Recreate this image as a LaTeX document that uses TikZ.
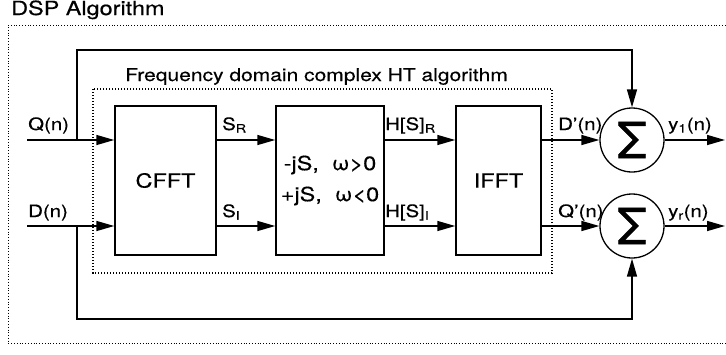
\documentclass[tikz,border=0pt]{standalone}
\usepackage{fontspec}
\setmainfont{TeX Gyre Heros}[FakeStretch=1.2,FakeBold=0.4]
\newfontfamily\sigfont{TeX Gyre Heros}[FakeBold=0.6]
\usepackage{tikz}
\usetikzlibrary{arrows.meta}
\usetikzlibrary{positioning}

\begin{document}
\begin{tikzpicture}[line cap=butt,line join=miter,>={Triangle[length=18pt,width=10pt]},x=1pt,y=-1pt,
  blk/.style={draw,line width=1.5pt,inner sep=0pt,font=\fontsize{19.5}{22}\selectfont},
  sumnode/.style={draw,circle,line width=1.3pt,minimum size=64pt,inner sep=0pt,font=\sigfont\fontsize{50}{50}\selectfont},
  lbl/.style={anchor=base west,inner sep=0pt,font=\fontsize{17}{19}\selectfont},
  wire/.style={line width=1.5pt}]
\useasboundingbox (0,0) rectangle (726,354);
% outer and inner frames
\draw[line width=0.8pt,dotted] (725.5,25) -- (8,25) -- (8,343) -- (725.5,343);
\node[lbl,font=\fontsize{19.5}{21}\selectfont] (title) at (11,15) {DSP Algorithm};
\draw[line width=1.3pt,dash pattern=on 1.4pt off 1.6pt] (93,89) rectangle (552,273);
\node[lbl,font=\fontsize{17.5}{19}\selectfont] (htlab) at (125,81) {Frequency domain complex HT algorithm};
% blocks
\node[blk,minimum width=101pt,minimum height=149pt] (cfft) at (165.5,180.5) {CFFT};
\node[blk,minimum width=108pt,minimum height=149pt,align=center,font=\fontsize{19.5}{31}\selectfont] (hilb) at (330,180.5) {-jS,\ \ ω>0\\+jS,\ \ ω<0};
\node[blk,minimum width=85pt,minimum height=149pt] (ifft) at (498.5,180.5) {IFFT};
\node[sumnode] (sum1) at (632,140) {Σ};
\node[sumnode] (sum2) at (632,226) {Σ};
% end points
\coordinate (qin) at (27,140);
\coordinate (din) at (27,226);
\coordinate (qbr) at (77,140);
\coordinate (dbr) at (77,226);
\coordinate (qtop) at (77,50);
\coordinate (dbot) at (77,319);
\coordinate (y1out) at (725,140);
\coordinate (yrout) at (725,226);
% signal lines
\draw[wire,->] (qin) -- (qin -| cfft.west);
\draw[wire,->] (din) -- (din -| cfft.west);
\draw[wire,->] (qin -| cfft.east) -- (qin -| hilb.west);
\draw[wire,->] (din -| cfft.east) -- (din -| hilb.west);
\draw[wire,->] (qin -| hilb.east) -- (qin -| ifft.west);
\draw[wire,->] (din -| hilb.east) -- (din -| ifft.west);
\draw[wire,->] (qin -| ifft.east) -- (sum1.west);
\draw[wire,->] (din -| ifft.east) -- (sum2.west);
\draw[wire,->] (sum1.east) -- (y1out);
\draw[wire,->] (sum2.east) -- (yrout);
\draw[wire,->] (qbr) -- (qtop) -| (sum1.north);
\draw[wire,->] (dbr) -- (dbot) -| (sum2.south);
% labels
\node[lbl] (qlab) at (28,130) {Q(n)};
\node[lbl] (dlab) at (28,217) {D(n)};
\node[lbl] (srlab) at (222,130) {S\textsubscript{R}};
\node[lbl] (silab) at (222,217) {S\textsubscript{I}};
\node[lbl] (hrlab) at (385,130) {H[S]\textsubscript{R}};
\node[lbl] (hilab) at (385,217) {H[S]\textsubscript{I}};
\node[lbl] (dplab) at (558,130) {D'(n)};
\node[lbl] (qplab) at (558,217) {Q'(n)};
\node[lbl] (y1lab) at (668,130) {y\textsubscript{1}(n)};
\node[lbl] (yrlab) at (668,217) {y\textsubscript{r}(n)};
\end{tikzpicture}
\end{document}
